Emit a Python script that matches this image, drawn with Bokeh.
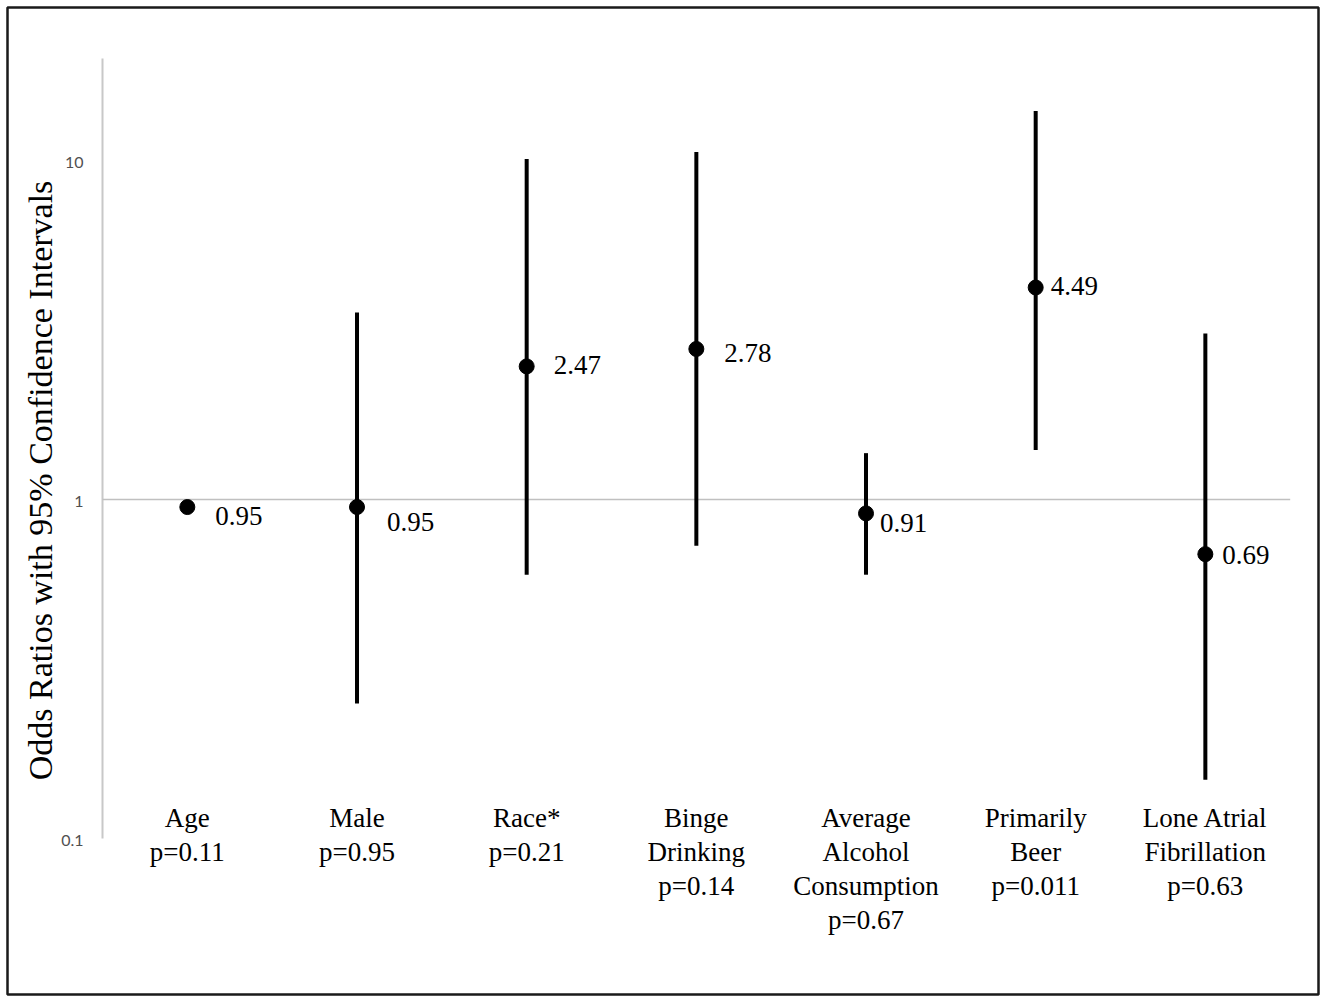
import numpy as np
from bokeh.plotting import figure
from bokeh.models import ColumnDataSource, Range1d
from bokeh.core.properties import value
from bokeh.embed import file_html
from bokeh.resources import INLINE

# ---- data ----
categories = ["Age", "Male", "Race*", "Binge\nDrinking", "Average\nAlcohol\nConsumption",
              "Primarily\nBeer", "Lone Atrial\nFibrillation"]
p_values = ["0.11", "0.95", "0.21", "0.14", "0.67", "0.011", "0.63"]
odds_ratio = [0.95, 0.95, 2.47, 2.78, 0.91, 4.22, 0.69]
or_labels = ["0.95", "0.95", "2.47", "2.78", "0.91", "4.49", "0.69"]
ci_lower = [0.92, 0.25, 0.60, 0.73, 0.60, 1.40, 0.149]
ci_upper = [0.98, 3.56, 10.1, 10.6, 1.37, 14.0, 3.09]
y_ticks = [0.1, 1, 10]
y_tick_labels = ["0.1", "1", "10"]
y_title = "Odds Ratios with 95% Confidence Intervals"

# ---- layout / style ----
W, H = 1320, 996
FL, FT, FR, FB = 7, 7, 1318, 994      # frame edges on the canvas
X0, PXU = 102, 169.67                 # canvas x of x=0, pixels per category
Y1, DEC = 499, 339                    # canvas y of OR=1, pixels per decade

xpos = np.arange(len(categories)) + 0.5
lab_dx = [28, 30, 27, 28, 14, 15, 17]
lab_dy = [9, 15, -1, 4, 10, -2, 1]

serif = value("Liberation Serif")

p = figure(width=W, height=H, output_backend="svg", toolbar_location=None,
           x_axis_location=None, y_axis_location=None, y_axis_type="log",
           x_range=Range1d((FL - X0) / PXU, (FR - X0) / PXU),
           y_range=Range1d(10 ** ((Y1 - FB) / DEC), 10 ** ((Y1 - FT) / DEC)),
           min_border_left=FL, min_border_top=FT,
           min_border_right=W - FR, min_border_bottom=H - FB)
p.grid.visible = False
p.outline_line_color = "#1a1a1a"
p.outline_line_width = 2.5
p.background_fill_color = "white"
p.border_fill_color = "white"

# axis line and reference line at 1
p.segment(x0=[0], y0=[y_ticks[0]], x1=[0], y1=[20], line_color="#c8c8c8", line_width=2)
p.segment(x0=[0], y0=[1], x1=[len(categories)], y1=[1], line_color="#c0c0c0", line_width=1.5)

# tick labels
p.text(x=[0] * len(y_ticks), y=y_ticks, text=y_tick_labels, x_offset=-19, y_offset=2,
       text_align="right", text_baseline="middle", text_font=value("Lato"),
       text_font_size="16px", text_color="#505050")

# y title
p.text(x=[0], y=[1], text=[y_title], x_offset=-62, y_offset=-19, angle=np.pi / 2,
       text_align="center", text_baseline="middle", text_font=serif,
       text_font_size="34px", text_color="black")

src = ColumnDataSource(dict(x=xpos, y=odds_ratio, lo=ci_lower, hi=ci_upper,
                            lab=or_labels, dx=lab_dx, dy=lab_dy,
                            cat=[c + "\np=" + pv for c, pv in zip(categories, p_values)],
                            base=[y_ticks[0]] * len(categories)))

p.segment(x0="x", y0="lo", x1="x", y1="hi", source=src, line_color="black", line_width=4)
p.scatter(x="x", y="y", source=src, size=15, fill_color="black", line_color="black")
p.text(x="x", y="y", text="lab", x_offset="dx", y_offset="dy", source=src,
       text_align="left", text_baseline="middle", text_font=serif,
       text_font_size="27px", text_color="black")

# category labels
p.text(x="x", y="base", text="cat", y_offset=-36, source=src,
       text_align="center", text_baseline="top", text_font=serif,
       text_font_size="27px", text_line_height=1.14, text_color="black")

open("out.html", "w").write(file_html(p, INLINE))
